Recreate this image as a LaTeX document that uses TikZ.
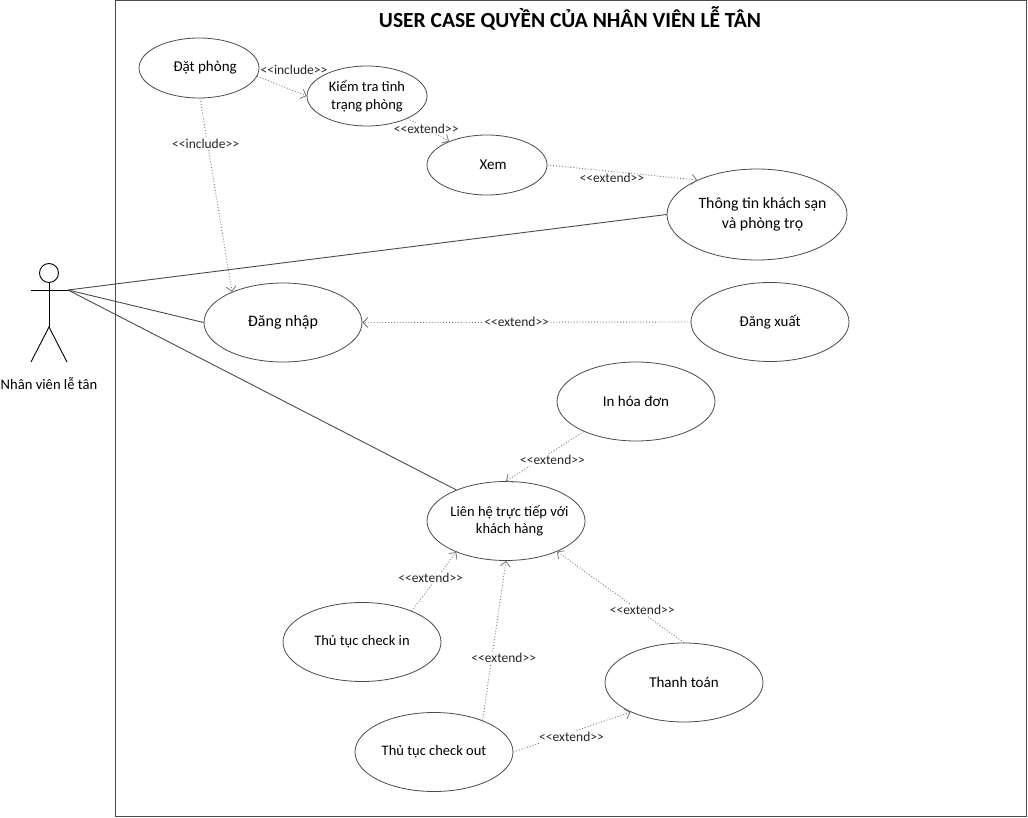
\documentclass[tikz,border=0pt]{standalone}
\usepackage{fontspec}
\usepackage{xcolor}
\setmainfont{Carlito}
\usetikzlibrary{shapes.geometric,arrows.meta}
\definecolor{linegray}{HTML}{4A4A4A}
\definecolor{dotgray}{HTML}{777777}
\newcommand{\inc}{<{}<include>{}>}
\newcommand{\ext}{<{}<extend>{}>}
\tikzset{
  usecase/.style={draw=linegray, line width=0.8pt, ellipse, inner sep=-20pt, align=center, font=\fontsize{15}{18}\selectfont},
  smallcase/.style={usecase, minimum width=120pt, minimum height=60pt},
  midcase/.style={usecase, minimum width=158pt, minimum height=79pt},
  assoc/.style={draw=linegray, line width=0.9pt},
  dep/.style={draw=dotgray, line width=0.9pt, dotted, -{Straight Barb[length=5pt,width=10pt,line width=0.8pt]}},
  deplabel/.style={font=\fontsize{13.5}{15}\selectfont, inner sep=1pt, text=black!85},
  limb/.style={draw=black, line width=0.9pt}
}
\begin{document}
\begin{tikzpicture}[x=1pt,y=-1pt]
  \useasboundingbox (0,0) rectangle (1028,818);
  \draw [linegray, line width=1pt] (115,1) rectangle (1026,816);
  \node [font=\fontsize{21.5}{24}\selectfont\bfseries] (title) at (570,18) {USER CASE QUYỀN CỦA NHÂN VIÊN LỄ TÂN};
  % actor
  \node [draw=black, line width=0.9pt, circle, minimum size=19pt, inner sep=0pt] (head) at (49,273) {};
  \coordinate (hip) at (49,327);
  \coordinate (handl) at (31,290);
  \coordinate (handr) at (68,290);
  \coordinate (footl) at (31,362);
  \coordinate (footr) at (67,362);
  \draw [limb] (head.south) -- (hip);
  \draw [limb] (handl) -- (handr);
  \draw [limb] (footl) -- (hip) -- (footr);
  \node [font=\fontsize{14.6}{18}\selectfont] (actor) at (49,384) {Nhân viên lễ tân};
  % use cases
  \node [smallcase] (datphong) at (199,68) {\hspace*{12pt}\raisebox{-1.5pt}{Đặt phòng}};
  \node [smallcase, font=\fontsize{14.5}{17.5}\selectfont] (kiemtra) at (367,96) {Kiểm tra tình\\trạng phòng};
  \node [smallcase] (xem) at (487,165) {\hspace*{12pt}Xem};
  \node [usecase, font=\fontsize{15.8}{20}\selectfont, minimum width=180pt, minimum height=91pt] (thongtin) at (757,214.5) {\hspace*{11pt}\raisebox{-1pt}{Thông tin khách sạn}\\\hspace*{11pt}\raisebox{-1pt}{và phòng trọ}};
  \node [midcase, font=\fontsize{16}{18}\selectfont] (dangnhap) at (283,322.5) {\raisebox{-1pt}{Đăng nhập}};
  \node [midcase] (dangxuat) at (770,322) {Đăng xuất};
  \node [midcase] (inhoadon) at (636,401.5) {In hóa đơn};
  \node [midcase, font=\fontsize{14.5}{17.5}\selectfont] (lienhe) at (506,521) {\hspace*{7pt}\raisebox{-2pt}{Liên hệ trực tiếp với}\\\hspace*{7pt}\raisebox{-2pt}{khách hàng}};
  \node [midcase, font=\fontsize{14.5}{18}\selectfont] (checkin) at (362,642) {Thủ tục check in};
  \node [midcase] (thanhtoan) at (684,682.5) {Thanh toán};
  \node [midcase, font=\fontsize{14.5}{18}\selectfont] (checkout) at (434,752) {\raisebox{-1.5pt}{Thủ tục check out}};
  % associations
  \draw [assoc] (handr) -- (thongtin.west);
  \draw [assoc] (handr) -- (dangnhap.west);
  \draw [assoc] (handr) -- (lienhe.148);
  % dependencies
  \draw [dep] (datphong.-8) -- node [deplabel, anchor=west, pos=0, xshift=2pt, yshift=6pt]{\inc} (kiemtra.west);
  \draw [dep] (datphong.-88) -- node [deplabel, fill=white, pos=0.236, xshift=-2pt]{\inc} (dangnhap.149);
  \draw [dep] (kiemtra.-29) -- node [deplabel, fill=white, pos=0.4, xshift=2pt, yshift=-1pt]{\ext} (xem.148);
  \draw [dep] (xem.east) -- node [deplabel, below, pos=0.43]{\ext} (thongtin.150);
  \draw [dep] (dangxuat.west) -- node [deplabel, fill=white, pos=0.53]{\ext} (dangnhap.east);
  \draw [dep] (inhoadon.210) -- node [deplabel, fill=white, pos=0.57, xshift=13pt]{\ext} (lienhe.90);
  \draw [dep] (checkin.32) -- node [deplabel, fill=white, pos=0.56, xshift=-6pt]{\ext} (lienhe.212);
  \draw [dep] (checkout.33) -- node [deplabel, fill=white, pos=0.39, xshift=12pt]{\ext} (lienhe.south);
  \draw [dep] (thanhtoan.north) -- node [deplabel, fill=white, pos=0.36, xshift=4pt]{\ext} (lienhe.-31);
  \draw [dep] (checkout.east) -- node [deplabel, fill=white, pos=0.47, xshift=3pt, yshift=-4pt]{\ext} (thanhtoan.209);
\end{tikzpicture}
\end{document}
